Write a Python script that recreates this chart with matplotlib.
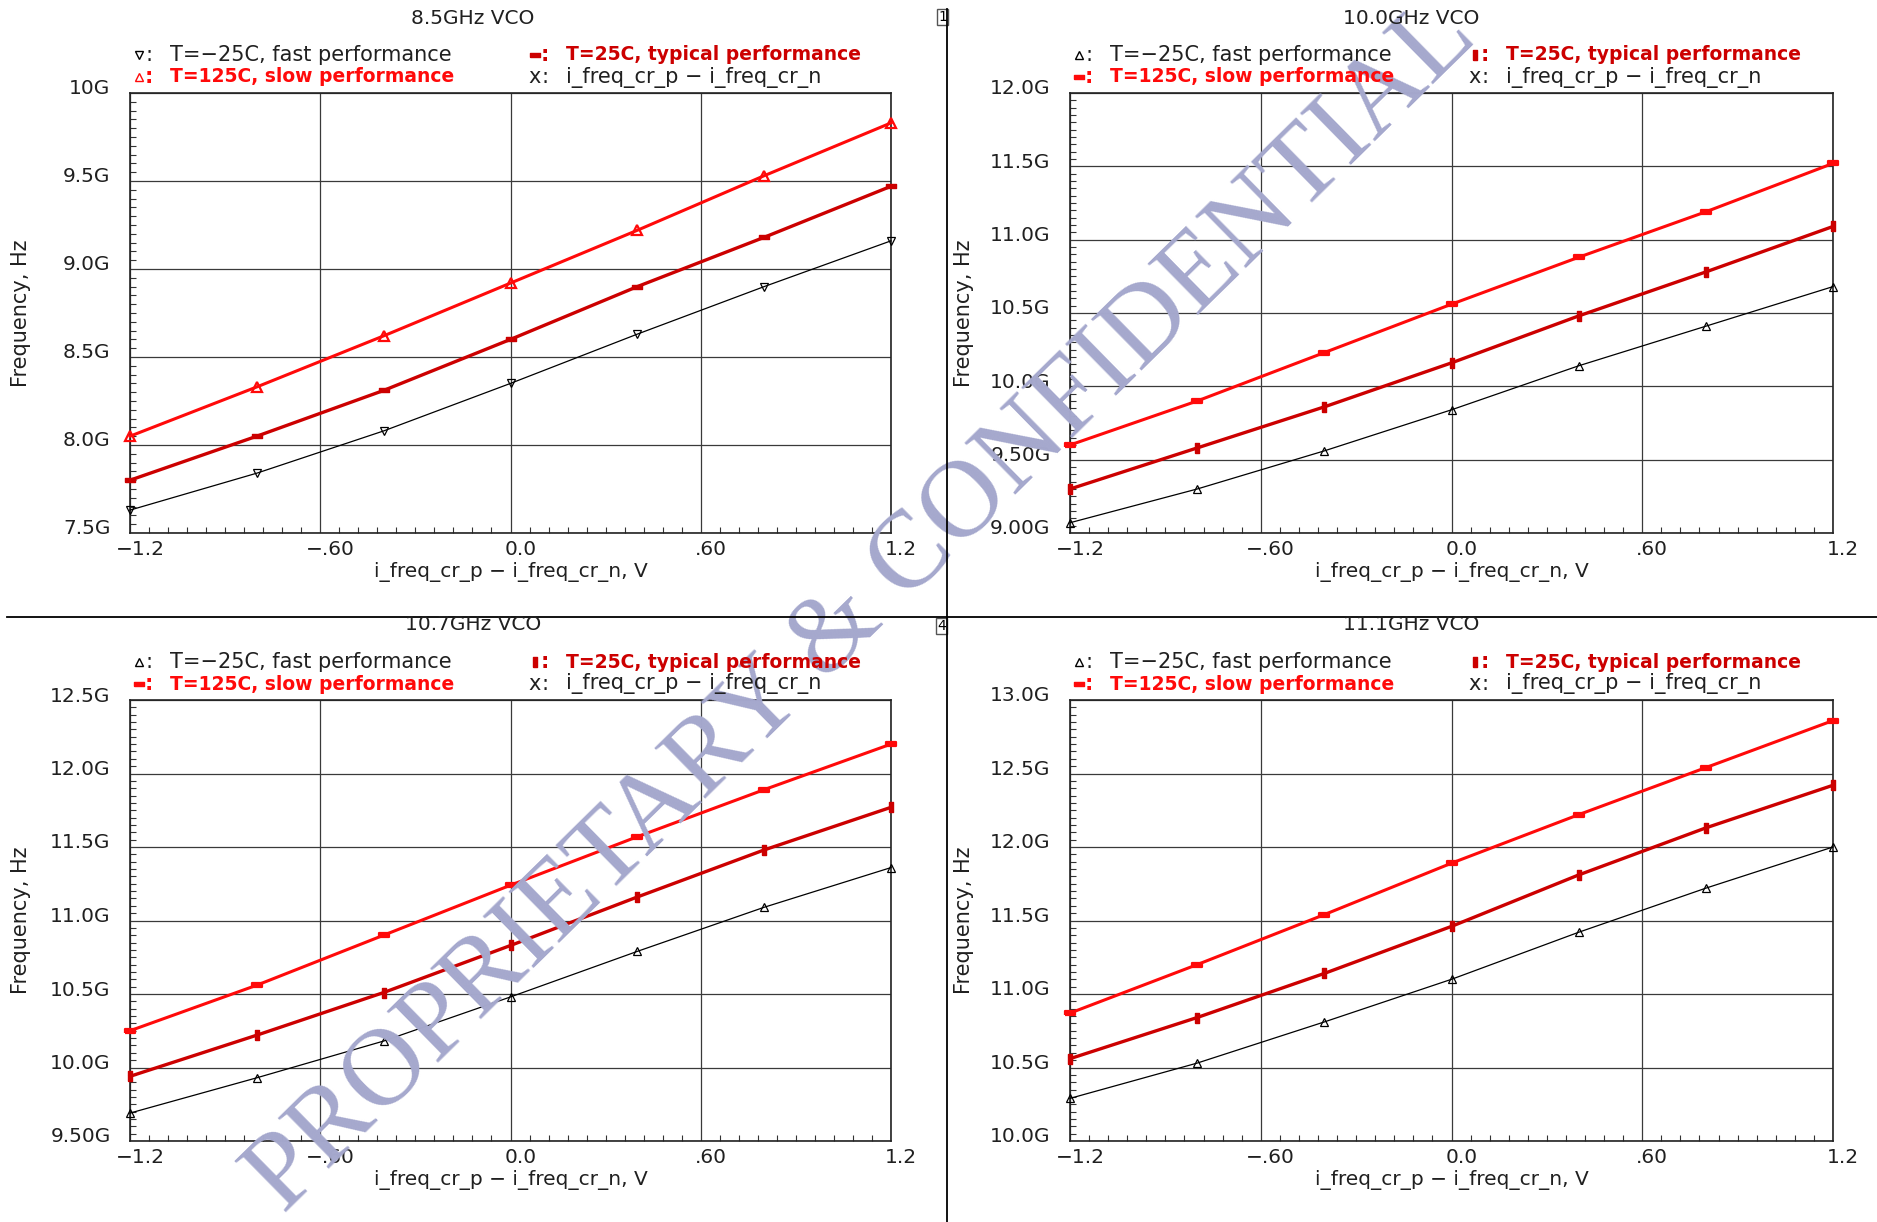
import matplotlib
matplotlib.use("Agg")
import matplotlib.pyplot as plt
import matplotlib.transforms as mtransforms
from matplotlib.lines import Line2D
from matplotlib.patches import Rectangle
from matplotlib.ticker import FixedLocator, MultipleLocator

W, H = 1877, 1222
DPI = 100

# control voltage sweep (V) and the four VCO bands
volts = [-1.2, -0.8, -0.4, 0.0, 0.4, 0.8, 1.2]
titles = ["8.5GHz VCO", "10.0GHz VCO", "10.7GHz VCO", "11.1GHz VCO"]

# frequencies in GHz
fast_85 = [7.63, 7.84, 8.08, 8.35, 8.63, 8.90, 9.16]
typ_85 = [7.80, 8.05, 8.31, 8.60, 8.90, 9.18, 9.47]
slow_85 = [8.05, 8.33, 8.62, 8.92, 9.22, 9.53, 9.83]

fast_100 = [9.07, 9.30, 9.56, 9.84, 10.14, 10.41, 10.68]
typ_100 = [9.30, 9.58, 9.86, 10.16, 10.48, 10.78, 11.09]
slow_100 = [9.60, 9.90, 10.23, 10.56, 10.88, 11.19, 11.52]

fast_107 = [9.69, 9.93, 10.18, 10.48, 10.79, 11.09, 11.36]
typ_107 = [9.94, 10.22, 10.51, 10.83, 11.16, 11.48, 11.77]
slow_107 = [10.25, 10.56, 10.90, 11.24, 11.57, 11.89, 12.20]

fast_111 = [10.29, 10.53, 10.81, 11.10, 11.42, 11.72, 12.00]
typ_111 = [10.56, 10.84, 11.14, 11.46, 11.81, 12.13, 12.42]
slow_111 = [10.87, 11.20, 11.54, 11.89, 12.22, 12.54, 12.86]

xticks = [-1.2, -0.6, 0.0, 0.6, 1.2]
xticklabels = ["\u22121.2", "\u2212.60", "0.0", ".60", "1.2"]

yticks_85 = [7.5, 8.0, 8.5, 9.0, 9.5, 10.0]
ylabels_85 = ["7.5G", "8.0G", "8.5G", "9.0G", "9.5G", "10G"]
yticks_100 = [9.0, 9.5, 10.0, 10.5, 11.0, 11.5, 12.0]
ylabels_100 = ["9.00G", "9.50G", "10.0G", "10.5G", "11.0G", "11.5G", "12.0G"]
yticks_107 = [9.5, 10.0, 10.5, 11.0, 11.5, 12.0, 12.5]
ylabels_107 = ["9.50G", "10.0G", "10.5G", "11.0G", "11.5G", "12.0G", "12.5G"]
yticks_111 = [10.0, 10.5, 11.0, 11.5, 12.0, 12.5, 13.0]
ylabels_111 = ["10.0G", "10.5G", "11.0G", "11.5G", "12.0G", "12.5G", "13.0G"]

legend_fast = "T=\u221225C, fast performance"
legend_typ = "T=25C, typical performance"
legend_slow = "T=125C, slow performance"
legend_x = "i_freq_cr_p \u2212 i_freq_cr_n"

SLOW_C = "#ff0a0a"
TYP_C = "#cc0000"
WM_C = "#a5a8cd"

hbar = [(-1, -0.45), (1, -0.45), (1, 0.45), (-1, 0.45), (-1, -0.45)]
vbar = [(-0.45, -1), (0.45, -1), (0.45, 1), (-0.45, 1), (-0.45, -1)]

# panel boxes in pixels: left, top, right, bottom
boxes = [(130, 93, 891, 533), (1070, 93, 1833, 533),
         (130, 700, 891, 1141), (1070, 700, 1833, 1141)]
panels = [
    (fast_85, typ_85, slow_85, yticks_85, ylabels_85, "v", hbar, "^"),
    (fast_100, typ_100, slow_100, yticks_100, ylabels_100, "^", vbar, hbar),
    (fast_107, typ_107, slow_107, yticks_107, ylabels_107, "^", vbar, hbar),
    (fast_111, typ_111, slow_111, yticks_111, ylabels_111, "^", vbar, hbar),
]

plt.rcParams["font.family"] = ["DejaVu Sans"]
fig = plt.figure(figsize=(W / DPI, H / DPI), dpi=DPI)


def fx(x):
    return x / W


def fy(y):
    return 1 - y / H


# watermark behind everything
fig.text(fx(862), fy(608), "PROPRIETARY & CONFIDENTIAL", family="Liberation Serif",
         fontsize=79, color=WM_C, rotation=44.5, rotation_mode="anchor",
         ha="center", va="center", zorder=0)

# frame lines and panel number boxes
fig.add_artist(Line2D([fx(947), fx(947)], [fy(9), fy(1222)], color="black", lw=1.3))
fig.add_artist(Line2D([fx(7), fx(1877)], [fy(617), fy(617)], color="black", lw=1.3))
for num, (bx, by) in [("1", (937, 9)), ("4", (936, 618))]:
    fig.add_artist(Rectangle((fx(bx), fy(by + 16)), 11 / W, 16 / H, fill=False,
                             edgecolor="#555555", lw=1.0, transform=fig.transFigure))
    fig.text(fx(bx + 5.5), fy(by + 8), num, fontsize=10, ha="center", va="center")


def legend_item(x0, y, marker, color, filled, text, tcolor, bold):
    if marker == "x":
        fig.text(fx(x0), fy(y), "x", fontsize=15, color=tcolor, ha="center", va="center")
    else:
        fig.add_artist(Line2D([fx(x0)], [fy(y)], marker=marker, color=color,
                              markersize=6.5 if filled else 6, linestyle="none",
                              markerfacecolor=color if filled else "none",
                              markeredgewidth=1.0, transform=fig.transFigure))
    fig.text(fx(x0 + 10), fy(y), ":", fontsize=15, color=tcolor, ha="center", va="center",
             fontweight="bold" if bold else "normal")
    fig.text(fx(x0 + 31), fy(y), text, fontsize=13.5 if bold else 15, color=tcolor,
             ha="left", va="center", fontweight="bold" if bold else "normal")


for i, (box, pdata, title) in enumerate(zip(boxes, panels, titles)):
    left, top, right, bottom = box
    fast, typ, slow, yt, yl, fast_m, typ_m, slow_m = pdata
    ax = fig.add_axes([fx(left), fy(bottom), (right - left) / W, (bottom - top) / H])
    ax.patch.set_alpha(0)

    ax.plot(volts, fast, color="black", lw=0.9, marker=fast_m, markersize=6,
            markerfacecolor="none", markeredgewidth=0.9, clip_on=False, zorder=3)
    ax.plot(volts, typ, color=TYP_C, lw=2.4, marker=typ_m, markersize=7,
            markerfacecolor=TYP_C, markeredgecolor=TYP_C, clip_on=False, zorder=4)
    slow_filled = slow_m != "^"
    ax.plot(volts, slow, color=SLOW_C, lw=2.2, marker=slow_m,
            markersize=7 if slow_filled else 6.5,
            markerfacecolor=SLOW_C if slow_filled else "none",
            markeredgecolor=SLOW_C, markeredgewidth=1.6, clip_on=False, zorder=5)

    ax.set_xlim(-1.2, 1.2)
    ax.set_ylim(yt[0], yt[-1])
    ax.xaxis.set_major_locator(FixedLocator(xticks))
    ax.set_xticklabels(xticklabels)
    ax.yaxis.set_major_locator(FixedLocator(yt))
    ax.set_yticklabels(yl)
    ax.xaxis.set_minor_locator(MultipleLocator(0.06))
    ax.yaxis.set_minor_locator(MultipleLocator(0.05))
    ax.tick_params(which="major", length=0, labelsize=14.5, colors="#202020")
    ax.tick_params(axis="x", which="major", pad=5)
    ax.tick_params(axis="y", which="major", pad=14)
    ax.tick_params(which="minor", direction="in", length=4, width=0.8, color="#333333")
    ax.grid(True, which="major", color="#3a3a3a", lw=0.9)
    for sp in ax.spines.values():
        sp.set_color("#222222")
        sp.set_linewidth(1.2)
    for lab in ax.get_xticklabels():
        lab.set_transform(lab.get_transform() + mtransforms.ScaledTranslation(10 / DPI, 0, fig.dpi_scale_trans))
    for lab in ax.get_yticklabels():
        lab.set_transform(lab.get_transform() + mtransforms.ScaledTranslation(0, 6 / DPI, fig.dpi_scale_trans))

    ax.set_xlabel("i_freq_cr_p \u2212 i_freq_cr_n, V", fontsize=14.5, color="#202020")
    ax.xaxis.set_label_coords(0.5, -39 / (bottom - top))
    ax.xaxis.label.set_va("center")
    ax.set_ylabel("Frequency, Hz", fontsize=15, color="#202020")
    ax.yaxis.set_label_coords((21 + (0 if left < 500 else 943) - left) / (right - left), 0.5)
    ax.yaxis.label.set_va("center")

    # title and legend text above each panel
    half_c = 473 if left < 500 else 1411
    fig.text(fx(half_c), fy(top - 75), title, fontsize=14.5, ha="center", va="center",
             color="#202020")
    row1, row2 = top - 38, top - 16
    lx, rx = left + 9, left + 405
    slow_leg_filled = slow_m != "^"
    legend_item(lx, row1, fast_m, "black", False, legend_fast, "#202020", False)
    legend_item(rx, row1, typ_m, TYP_C, True, legend_typ, TYP_C, True)
    legend_item(lx, row2, slow_m, SLOW_C, slow_leg_filled, legend_slow, SLOW_C, True)
    legend_item(rx, row2, "x", "black", False, legend_x, "#202020", False)

fig.savefig("out.png", dpi=DPI)
